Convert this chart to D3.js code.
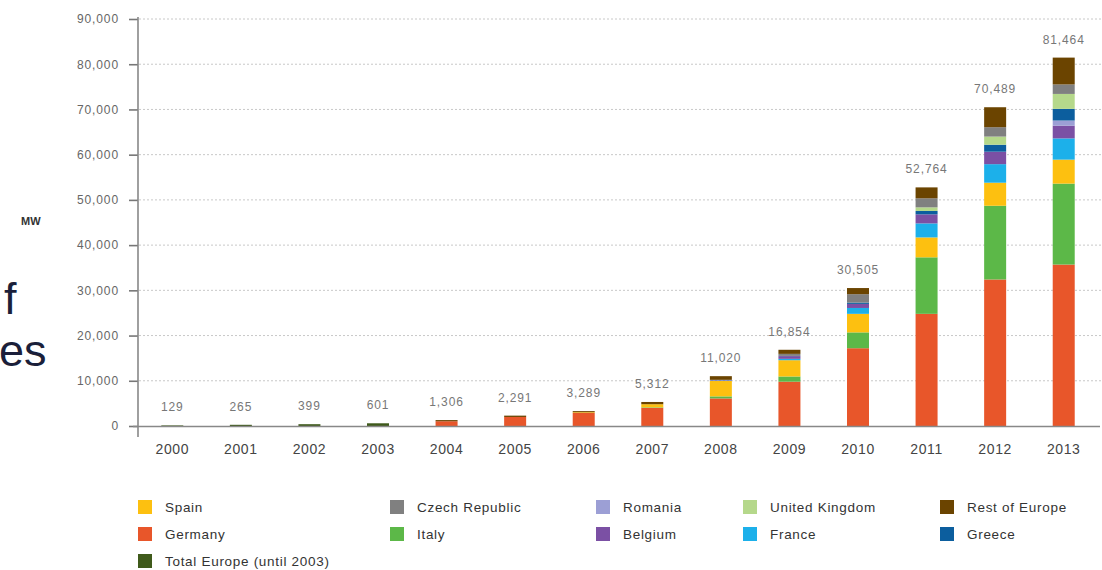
<!DOCTYPE html>
<html><head><meta charset="utf-8">
<script src="https://cdn.jsdelivr.net/npm/d3@7"></script>
<style>
body{margin:0;background:#fff;}
svg text{font-family:"Liberation Sans",Arial,sans-serif;}
</style></head>
<body><svg id="c" width="1102" height="570"></svg>
<script>
const years = ["2000","2001","2002","2003","2004","2005","2006","2007","2008","2009","2010","2011","2012","2013"];
const totals = [129,265,399,601,1306,2291,3289,5312,11020,16854,30505,52764,70489,81464];
const totalEurope = [129,265,399,601,0,0,0,0,0,0,0,0,0,0];
const germany = [0,0,0,0,1050,2000,2900,4000,6100,9800,17200,24800,32400,35700];
const italy   = [0,0,0,0,0,0,0,120,450,1150,3500,12500,16300,17900];
const spain   = [0,0,0,0,0,0,150,700,3400,3600,4100,4400,5100,5300];
const france  = [0,0,0,0,0,0,0,0,100,300,1300,3100,4100,4700];
const belgium = [0,0,0,0,0,0,0,0,100,600,900,2000,2700,2800];
const romania = [0,0,0,0,0,0,0,0,0,0,0,0,50,1150];
const greece  = [0,0,0,0,0,0,0,0,0,50,300,750,1550,2580];
const uk      = [0,0,0,0,0,0,0,0,0,0,0,800,1800,3300];
const czech   = [0,0,0,0,0,0,0,0,60,450,1850,2000,2070,2100];
const restOfEurope = [0,0,0,0,256,291,239,492,810,904,1355,2414,4419,5934];
const yTicks = [0,10000,20000,30000,40000,50000,60000,70000,80000,90000];

const seriesNames = ["Total Europe (until 2003)","Germany","Italy","Spain","France","Belgium","Romania","Greece","United Kingdom","Czech Republic","Rest of Europe"];
const seriesVals = [totalEurope,germany,italy,spain,france,belgium,romania,greece,uk,czech,restOfEurope];
const colors = {
  "Spain":"#fdc010","Germany":"#e8562a","Total Europe (until 2003)":"#3f5a1b",
  "Czech Republic":"#808080","Italy":"#5cb848","Romania":"#9c9fd5","Belgium":"#7b50a4",
  "United Kingdom":"#b5d88b","France":"#1cb0ea","Rest of Europe":"#6b4400","Greece":"#0c5e9e"
};
const legendCols = [["Spain","Germany","Total Europe (until 2003)"],["Czech Republic","Italy"],["Romania","Belgium"],["United Kingdom","France"],["Rest of Europe","Greece"]];

const svg = d3.select("#c");
const x = d3.scaleBand().domain(years).range([138,1098]).paddingInner(0).paddingOuter(0);
const y = d3.scaleLinear().domain([0,90000]).range([426,19]);
const bw = 22;

// left slide text fragments
svg.append("text").attr("x",4).attr("y",314).attr("font-size",45).attr("fill","#1b1f3a").text("f");
svg.append("text").attr("x",-1).attr("y",366).attr("font-size",45).attr("fill","#1b1f3a").text("es");

// MW
svg.append("text").attr("x",21).attr("y",225).attr("font-size",11).attr("font-weight","bold").attr("fill","#333").text("MW");

// gridlines
svg.append("g").selectAll("line").data(yTicks.filter(d=>d>0)).join("line")
  .attr("x1",139).attr("x2",1102).attr("y1",d=>y(d)).attr("y2",d=>y(d))
  .attr("stroke","#c8c8c8").attr("stroke-width",1).attr("stroke-dasharray","2,2");

// y axis
const ya = svg.append("g").attr("transform","translate(138,0)")
  .call(d3.axisLeft(y).tickValues(yTicks).tickSize(9).tickPadding(10).tickFormat(d3.format(",")));
ya.select(".domain").remove();
ya.selectAll(".tick line").attr("stroke","#777").attr("stroke-width",1.6);
ya.selectAll(".tick text").attr("font-size",12).attr("fill","#666").attr("letter-spacing","0.9px")
  .attr("font-family","Liberation Sans, Arial, sans-serif");
svg.append("line").attr("x1",138).attr("x2",138).attr("y1",y(90000)-2).attr("y2",437).attr("stroke","#888").attr("stroke-width",1.6);

// stacks
const table = years.map((yr,i)=>{const o={year:yr}; seriesNames.forEach((n,k)=>o[n]=seriesVals[k][i]); return o;});
const stack = d3.stack().keys(seriesNames)(table);
svg.append("g").selectAll("g").data(stack).join("g").attr("fill",d=>colors[d.key])
  .selectAll("rect").data(d=>d).join("rect")
  .attr("x",d=>x(d.data.year)+x.bandwidth()/2-bw/2).attr("width",bw)
  .attr("y",d=>y(d[1])).attr("height",d=>Math.max(0,y(d[0])-y(d[1])));

// x axis line
svg.append("line").attr("x1",133).attr("x2",1100).attr("y1",426.5).attr("y2",426.5).attr("stroke","#888").attr("stroke-width",1.4);

// x labels
svg.append("g").selectAll("text").data(years).join("text")
  .attr("x",d=>x(d)+x.bandwidth()/2).attr("y",454).attr("text-anchor","middle")
  .attr("font-size",14).attr("fill","#444").attr("letter-spacing","0.6px").text(d=>d);

// total labels
svg.append("g").selectAll("text").data(years).join("text")
  .attr("x",d=>x(d)+x.bandwidth()/2).attr("y",(d,i)=>y(totals[i])-14).attr("text-anchor","middle")
  .attr("font-size",12).attr("fill","#777").attr("letter-spacing","0.9px").text((d,i)=>d3.format(",")(totals[i]));

// legend
const colX = [138,390,596,743,940];
const rowY = [507,534,561];
const lg = svg.append("g");
legendCols.forEach((col,ci)=>{
  col.forEach((name,ri)=>{
    lg.append("rect").attr("x",colX[ci]).attr("y",rowY[ri]-7).attr("width",14).attr("height",14).attr("fill",colors[name]);
    lg.append("text").attr("x",colX[ci]+27).attr("y",rowY[ri]+5).attr("font-size",13.5)
      .attr("fill","#333").attr("letter-spacing","0.7px").text(name);
  });
});
</script></body></html>
